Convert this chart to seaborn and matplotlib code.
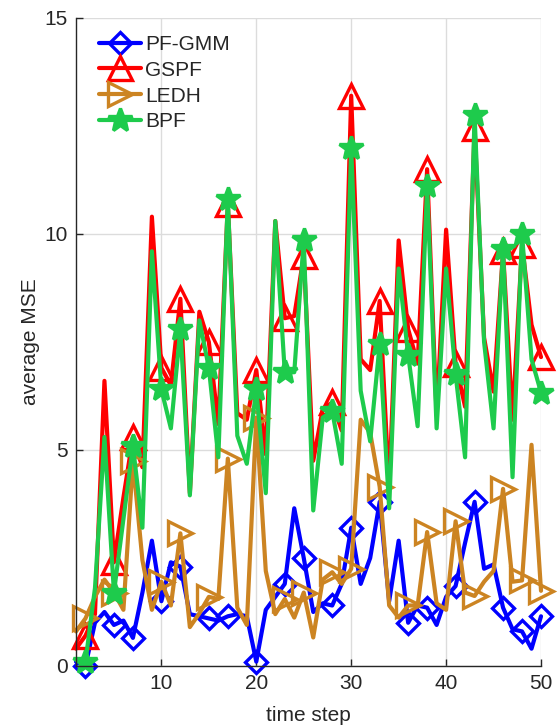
import numpy as np
import matplotlib

matplotlib.use('Agg')
import matplotlib.pyplot as plt
import seaborn as sns

sns.set_style('white')
plt.rcParams['font.family'] = ['Liberation Sans', 'DejaVu Sans']

# --- data ---
steps = list(range(1, 51))

pf_gmm = [0.1, 0.0, 1.0, 1.25, 0.95, 1.05, 0.65, 1.7, 2.9, 1.5,
          2.4, 2.3, 1.2, 1.15, 1.1, 1.05, 1.15, 1.2, 1.15, 0.1,
          1.3, 1.6, 1.9, 3.65, 2.5, 1.25, 1.45, 1.4, 1.9, 3.2,
          1.9, 2.5, 3.8, 1.5, 2.9, 1.0, 1.4, 1.35, 0.95, 1.6,
          1.85, 2.85, 3.8, 2.25, 2.35, 1.35, 0.85, 0.8, 0.4, 1.15]

gspf = [0.4, 0.7, 1.2, 6.6, 2.4, 3.9, 5.3, 4.6, 10.4, 6.9,
        6.5, 8.5, 4.0, 8.2, 7.5, 5.6, 10.7, 5.85, 5.7, 6.85,
        4.9, 10.3, 8.05, 8.1, 9.5, 4.75, 5.95, 6.1, 5.45, 13.2,
        7.1, 6.85, 8.45, 4.1, 9.85, 7.8, 7.0, 11.5, 5.8, 10.1,
        7.0, 6.0, 12.45, 7.6, 6.35, 9.6, 5.7, 9.75, 7.9, 7.15]

ledh = [0.8, 1.1, 1.6, 2.0, 1.7, 1.3, 4.75, 2.45, 1.3, 1.95,
        1.4, 3.07, 0.9, 1.22, 1.6, 1.55, 4.8, 1.35, 0.95, 5.75,
        2.2, 1.2, 1.55, 1.12, 1.7, 0.66, 2.0, 2.17, 1.9, 2.25,
        5.7, 5.4, 4.15, 1.4, 1.12, 1.4, 1.4, 3.1, 1.45, 1.3,
        3.35, 1.7, 1.62, 1.95, 2.2, 4.1, 1.95, 1.98, 5.12, 1.74]

bpf = [0.15, 0.1, 1.8, 5.3, 1.7, 3.4, 5.1, 3.2, 9.6, 6.4,
       5.5, 7.8, 3.95, 8.0, 6.9, 4.83, 10.8, 5.33, 4.68, 6.4,
       4.0, 10.3, 6.8, 6.8, 9.85, 3.6, 5.75, 5.9, 4.68, 12.0,
       6.37, 5.2, 7.45, 3.65, 9.2, 7.2, 5.55, 11.1, 5.5, 9.2,
       6.75, 4.83, 12.75, 7.5, 5.5, 9.65, 4.37, 10.0, 7.1, 6.33]

# time steps that carry a marker
marker_steps = [2, 5, 7, 10, 12, 15, 17, 20, 23, 25, 28, 30, 33, 36, 38,
                41, 43, 46, 48, 50]

series = [
    ('PF-GMM', pf_gmm, '#0000ff', 'D', 11, 'none'),
    ('GSPF', gspf, '#ff0000', '^', 17, 'none'),
    ('LEDH', ledh, '#cc8422', '>', 17, 'none'),
    ('BPF', bpf, '#1ecb4c', '*', 18, '#1ecb4c'),
]

fig = plt.figure(figsize=(5.57, 7.28), dpi=100)
ax = fig.add_axes([0.1364, 0.0852, 0.8349, 0.8901])

mark_idx = [s - 1 for s in marker_steps]
for name, vals, col, mk, ms, mfc in series:
    sns.lineplot(x=steps, y=vals, ax=ax, color=col, linewidth=3.0,
                 marker=mk, markersize=ms, markevery=mark_idx,
                 markerfacecolor=mfc, markeredgecolor=col,
                 markeredgewidth=2.4, label=name, sort=False,
                 errorbar=None, clip_on=False)

ax.set_xlim(1, 50)
ax.set_ylim(0, 15)
ax.set_xticks([10, 20, 30, 40, 50])
ax.set_yticks([0, 5, 10, 15])
ax.grid(True, color='#dcdcdc', linewidth=1.0)
ax.set_axisbelow(True)

for side in ['top', 'right']:
    ax.spines[side].set_visible(False)
for side in ['left', 'bottom']:
    ax.spines[side].set_color('#262626')
    ax.spines[side].set_linewidth(1.0)

ax.tick_params(direction='in', length=5, width=1.0, colors='#262626',
               labelsize=15, left=True, bottom=True, pad=6)
ax.set_xlabel('time step', fontsize=15, color='#262626', labelpad=9)
ax.set_ylabel('average MSE', fontsize=15, color='#262626', labelpad=3)

ax.legend(loc='upper left', bbox_to_anchor=(0.05, 0.974), frameon=False,
          fontsize=15, handlelength=2.0, handletextpad=0.2,
          labelspacing=0.33, borderpad=0, borderaxespad=0)

fig.savefig('out.png', dpi=100)
